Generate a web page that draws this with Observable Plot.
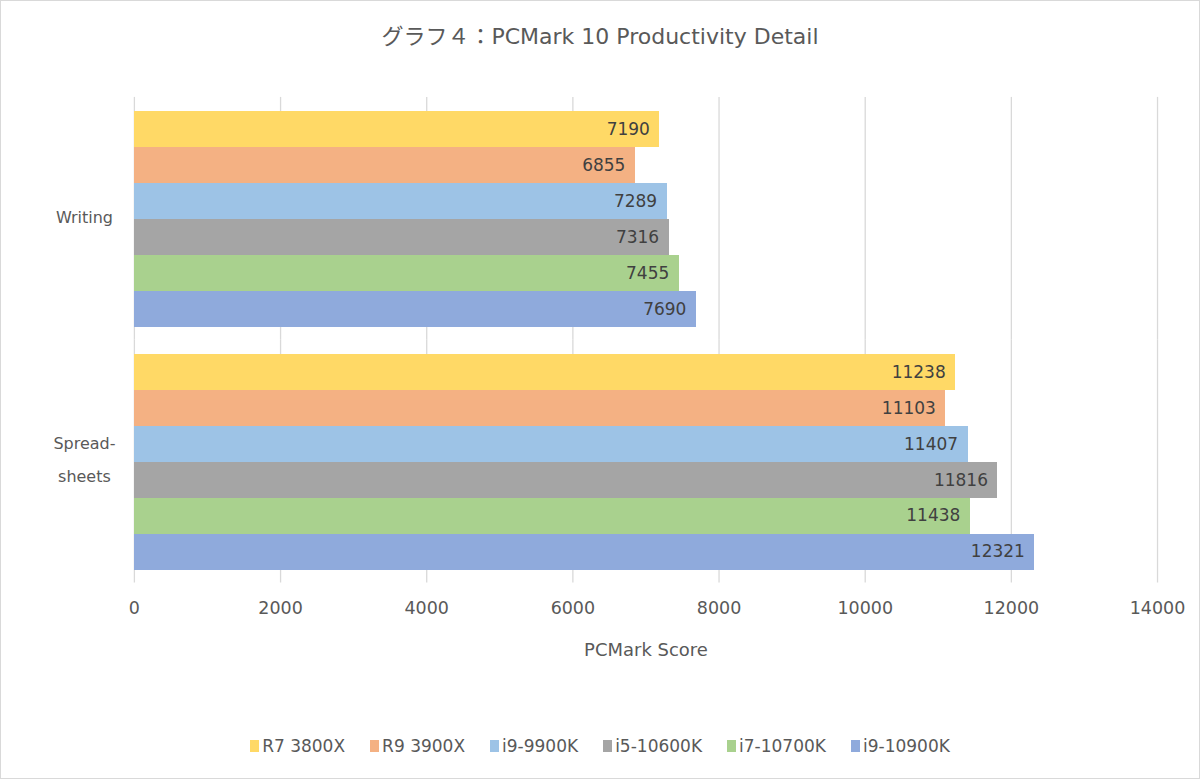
<!DOCTYPE html>
<html>
<head>
<meta charset="utf-8">
<script src="https://cdn.jsdelivr.net/npm/d3@7"></script>
<script src="https://cdn.jsdelivr.net/npm/@observablehq/plot@0.6"></script>
<style>
  html, body { margin: 0; padding: 0; background: #fff; }
  #wrap { position: relative; width: 1198px; height: 777px; border: 1px solid #d9d9d9; background: #fff; overflow: hidden;
          font-family: "DejaVu Sans", "Noto Sans CJK JP", sans-serif; color: #595959; }
  #title { position: absolute; top: 22px; left: 0; width: 100%; text-align: center; font-size: 22px; line-height: 28px; color: #595959; }
  #chart { position: absolute; top: -1px; left: -1px; }
  #legend { position: absolute; top: 734px; left: 0; width: 100%; display: flex; justify-content: center; gap: 25px; font-size: 17px; line-height: 22px; color: #595959; }
  .item { display: flex; align-items: center; gap: 3px; }
  .sw { width: 9px; height: 12px; display: inline-block; }
</style>
</head>
<body>
<div id="wrap">
  <div id="title">グラフ４：PCMark 10 Productivity Detail</div>
  <div id="chart"></div>
  <div id="legend"></div>
</div>
<script>
const categories = ["Writing", "Spreadsheets"];
const categoryLabels = ["Writing", "Spread-\nsheets"];
const processors = ["R7 3800X", "R9 3900X", "i9-9900K", "i5-10600K", "i7-10700K", "i9-10900K"];
const writingScores = [7190, 6855, 7289, 7316, 7455, 7690];
const spreadsheetScores = [11238, 11103, 11407, 11816, 11438, 12321];
const colors = ["#ffd966", "#f4b183", "#9dc3e6", "#a5a5a5", "#a9d18e", "#8faadc"];
const xTicks = [0, 2000, 4000, 6000, 8000, 10000, 12000, 14000];
const xLabel = "PCMark Score";

const rows = [];
processors.forEach((p, i) => rows.push({category: categories[0], processor: p, score: writingScores[i]}));
processors.forEach((p, i) => rows.push({category: categories[1], processor: p, score: spreadsheetScores[i]}));

const font = '"DejaVu Sans", "Noto Sans CJK JP", sans-serif';

const chart = Plot.plot({
  width: 1200,
  height: 700,
  marginTop: 97,
  marginLeft: 134,
  marginRight: 42,
  marginBottom: 117,
  style: {fontFamily: font, fontSize: "16px", color: "#595959", background: "transparent"},
  x: {domain: [0, 14000]},
  y: {domain: processors, paddingInner: 0, paddingOuter: 0.36, axis: null},
  fy: {domain: categories, padding: 0},
  color: {domain: processors, range: colors},
  marks: [
    Plot.gridX(xTicks, {stroke: "#d9d9d9", strokeOpacity: 1, strokeWidth: 1.3}),
    Plot.barX(rows, {x: "score", y: "processor", fy: "category", fill: "processor", shapeRendering: "crispEdges"}),
    Plot.text(rows, {x: "score", y: "processor", fy: "category", text: d => String(d.score),
      textAnchor: "end", dx: -10, fill: "#404040", fontSize: 17}),
    Plot.axisX(xTicks, {tickSize: 0, tickPadding: 19, tickFormat: d => String(d), fontSize: 17.5,
      label: xLabel, labelAnchor: "center", labelArrow: "none", labelOffset: 73, fill: "#595959"}),
    Plot.axisFy({anchor: "left", tickSize: 0, tickPadding: 0, textAnchor: "middle", dx: -50, dy: -7, fontSize: 16,
      label: null, fill: "#595959", lineHeight: 2.1,
      tickFormat: d => categoryLabels[categories.indexOf(d)]})
  ]
});
document.getElementById("chart").appendChild(chart);
// axis title font size
chart.querySelectorAll("g[aria-label='x-axis label'] text").forEach(t => t.setAttribute("font-size", "18"));

const legend = document.getElementById("legend");
processors.forEach((p, i) => {
  const item = document.createElement("div");
  item.className = "item";
  const sw = document.createElement("span");
  sw.className = "sw";
  sw.style.background = colors[i];
  const t = document.createElement("span");
  t.textContent = p;
  item.appendChild(sw);
  item.appendChild(t);
  legend.appendChild(item);
});
</script>
</body>
</html>
